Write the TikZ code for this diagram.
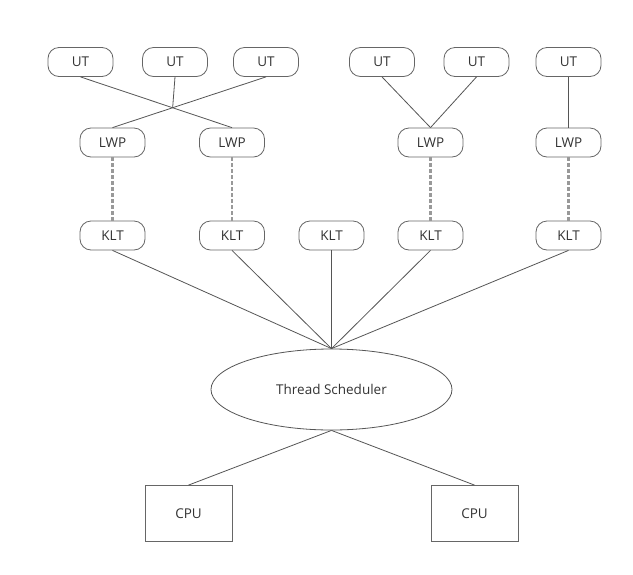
\documentclass[tikz,border=0pt]{standalone}
\usepackage{fontspec}
\setmainfont{Open Sans}
\usetikzlibrary{shapes.geometric}
\definecolor{linecol}{HTML}{555555}
\definecolor{boxcol}{HTML}{666666}
\definecolor{textcol}{HTML}{333333}
\definecolor{dashcol}{HTML}{999999}
\begin{document}
\begin{tikzpicture}[x=1pt,y=-1pt,
  thr/.style={draw=boxcol, rounded corners=11pt, minimum width=65pt, minimum height=29pt, inner sep=0pt, font=\fontsize{13.5}{16}\selectfont, text=textcol, line width=0.8pt},
  sched/.style={draw=linecol, ellipse, minimum width=241pt, minimum height=81pt, inner sep=0pt, font=\fontsize{13.5}{16}\selectfont, text=textcol, line width=0.8pt},
  cpu/.style={draw=boxcol, rectangle, minimum width=87pt, minimum height=56pt, inner sep=0pt, font=\fontsize{13.5}{16}\selectfont, text=textcol, line width=0.8pt},
  link/.style={draw=linecol, line width=0.8pt},
  dashlink/.style={draw=dashcol, dash pattern=on 4pt off 2pt, line width=2.2pt}]
\useasboundingbox[fill=white] (0,0) rectangle (633,574);
% user threads
\node[thr] (UT1) at (80.5,62) {UT};
\node[thr] (UT2) at (175,62) {UT};
\node[thr] (UT3) at (266,62) {UT};
\node[thr] (UT4) at (382,62) {UT};
\node[thr] (UT5) at (476.5,62) {UT};
\node[thr] (UT6) at (568.5,62) {UT};
% LWPs
\node[thr] (LWP1) at (112.5,142.5) {LWP};
\node[thr] (LWP2) at (232,142.5) {LWP};
\node[thr] (LWP3) at (430.5,142.5) {LWP};
\node[thr] (LWP4) at (568.5,142.5) {LWP};
% KLTs
\node[thr] (KLT1) at (112.5,235.5) {KLT};
\node[thr] (KLT2) at (232,235.5) {KLT};
\node[thr] (KLT3) at (331.5,235.5) {KLT};
\node[thr] (KLT4) at (430.5,235.5) {KLT};
\node[thr] (KLT5) at (568.5,235.5) {KLT};
% scheduler
\node[sched] (TS) at (331.5,389.5) {Thread Scheduler};
% CPUs
\node[cpu] (CPU1) at (188.5,513.5) {CPU};
\node[cpu] (CPU2) at (474.5,513.5) {CPU};
% UT -> LWP
\coordinate (X) at (intersection of UT1.south--LWP2.north and UT3.south--LWP1.north);
\draw[link] (UT1.south) -- (LWP2.north);
\draw[link] (UT3.south) -- (LWP1.north);
\draw[link] (UT2.south) -- (X);
\draw[link] (UT4.south) -- (LWP3.north);
\draw[link] (UT5.south) -- (LWP3.north);
\draw[link] (UT6.south) -- (LWP4.north);
% LWP -> KLT
\draw[dashlink] (LWP1.south) -- (KLT1.north);
\draw[dashlink] (LWP2.south) -- (KLT2.north);
\draw[dashlink] (LWP3.south) -- (KLT4.north);
\draw[dashlink] (LWP4.south) -- (KLT5.north);
% KLT -> scheduler
\foreach \k in {KLT1,KLT2,KLT3,KLT4,KLT5}
  \draw[link] (\k.south) -- (TS.north);
% scheduler -> CPU
\draw[link] (TS.south) -- (CPU1.north);
\draw[link] (TS.south) -- (CPU2.north);
\end{tikzpicture}
\end{document}
